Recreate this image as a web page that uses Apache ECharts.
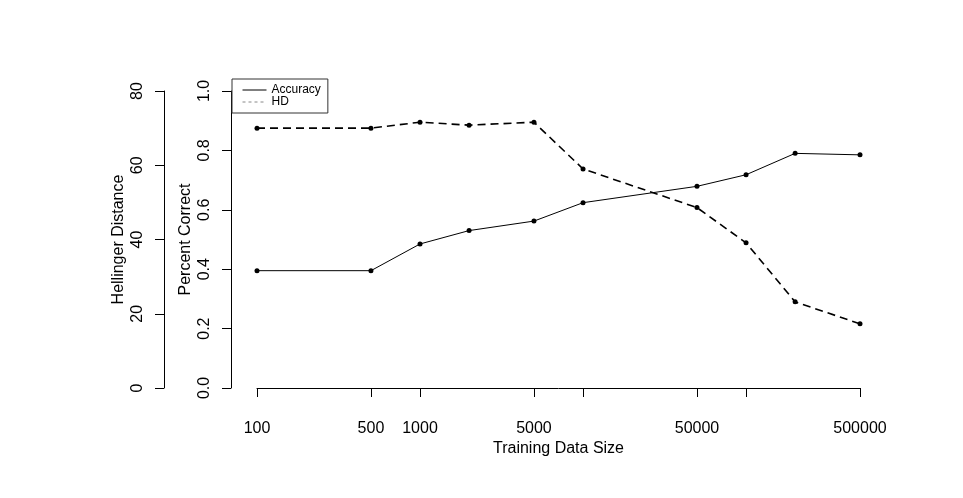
<!DOCTYPE html>
<html>
<head>
<meta charset="utf-8">
<script src="https://cdn.jsdelivr.net/npm/echarts@6/dist/echarts.min.js"></script>
<style>
  html, body { margin: 0; padding: 0; background: #fff; }
  #chart { width: 963px; height: 498px; }
</style>
</head>
<body>
<div id="chart"></div>
<script>
// training data sizes (log x axis)
const sizes = [100, 500, 1000, 2000, 5000, 10000, 50000, 100000, 200000, 500000];
// percent correct
const accuracy = [0.395, 0.395, 0.485, 0.53, 0.562, 0.624, 0.679, 0.718, 0.79, 0.785];
// hellinger distance
const hellinger = [70.0, 70.0, 71.6, 70.8, 71.6, 59.0, 48.6, 39.1, 23.2, 17.3];
// where the x axis puts ticks, and which of them get a label
const tickSizes = [100, 500, 1000, 5000, 10000, 50000, 100000, 500000];
const labelSizes = [100, 500, 1000, 5000, 50000, 500000];

const font = 'Liberation Sans, Arial, Helvetica, sans-serif';
const black = '#000';

const chart = echarts.init(document.getElementById('chart'));

const yAxisBase = {
  type: 'value',
  position: 'left',
  nameLocation: 'middle',
  nameRotate: 90,
  nameGap: 37,
  nameMoveOverlap: false,
  nameTextStyle: { fontFamily: font, fontSize: 16, color: black, lineHeight: 16 },
  splitLine: { show: false },
  axisLine: { show: true, lineStyle: { color: black, width: 1 } },
  axisTick: { show: true, length: 9, lineStyle: { color: black } },
  axisLabel: { rotate: 90, margin: 18, fontFamily: font, fontSize: 16, color: black, lineHeight: 16 }
};

chart.setOption({
  animation: false,
  backgroundColor: '#fff',
  grid: { left: 257, right: 103, top: 91, bottom: 110 },
  legend: {
    orient: 'vertical',
    left: 232,
    top: 79,
    padding: [5, 7, 5, 10],
    itemGap: 0,
    itemWidth: 24,
    itemHeight: 12,
    borderColor: '#333',
    borderWidth: 1,
    borderRadius: 0,
    itemStyle: { opacity: 0 },
    textStyle: { fontFamily: font, fontSize: 12, color: black, lineHeight: 12 },
    data: [
      { name: 'Accuracy', lineStyle: { width: 1, color: black, type: 'solid' } },
      { name: 'HD', lineStyle: { width: 1, color: '#888', type: [3, 3] } }
    ]
  },
  xAxis: {
    type: 'log',
    min: 100,
    max: 500000,
    offset: 12,
    name: 'Training Data Size',
    nameLocation: 'middle',
    nameGap: 41,
    nameMoveOverlap: false,
    nameTextStyle: { fontFamily: font, fontSize: 16, color: black, lineHeight: 16 },
    splitLine: { show: false },
    minorTick: { show: false },
    axisLine: { show: true, lineStyle: { color: black, width: 1 } },
    axisTick: { show: true, length: 9, lineStyle: { color: black }, customValues: tickSizes },
    axisLabel: {
      margin: 21,
      fontFamily: font,
      fontSize: 16,
      color: black,
      lineHeight: 16,
      customValues: labelSizes,
      formatter: v => String(Math.round(v))
    }
  },
  yAxis: [
    Object.assign({}, yAxisBase, {
      name: 'Percent Correct',
      min: 0,
      max: 1,
      interval: 0.2,
      offset: 26,
      axisLabel: Object.assign({}, yAxisBase.axisLabel, { formatter: v => v.toFixed(1) })
    }),
    Object.assign({}, yAxisBase, {
      name: 'Hellinger Distance',
      min: 0,
      max: 80,
      interval: 20,
      offset: 93
    })
  ],
  series: [
    {
      name: 'Accuracy',
      type: 'line',
      yAxisIndex: 0,
      data: sizes.map((s, i) => [s, accuracy[i]]),
      symbol: 'circle',
      symbolSize: 5,
      itemStyle: { color: black },
      lineStyle: { color: black, width: 1 }
    },
    {
      name: 'HD',
      type: 'line',
      yAxisIndex: 1,
      data: sizes.map((s, i) => [s, hellinger[i]]),
      symbol: 'circle',
      symbolSize: 5,
      itemStyle: { color: black },
      lineStyle: { color: black, width: 1.6, type: [8, 5] }
    }
  ]
});
</script>
</body>
</html>
